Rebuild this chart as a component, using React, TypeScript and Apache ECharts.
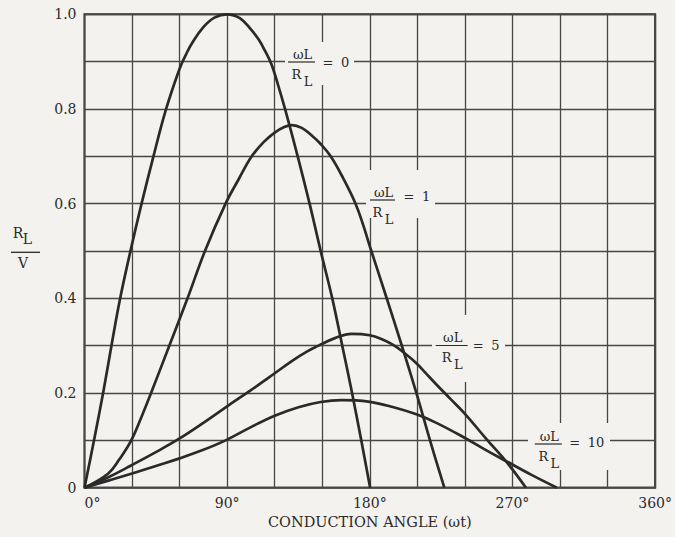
import React, { useEffect, useRef } from 'react';
import * as echarts from 'echarts';

// ---- data ----
const xTickValues = [0, 90, 180, 270, 360];
const yTickValues = [0, 0.2, 0.4, 0.6, 0.8, 1.0];

const ratio0Angle = [0, 6, 12, 17, 22.5, 29, 36, 43.5, 51.5, 60, 64, 68, 75, 82, 90, 98, 105, 110, 114, 118, 122, 126.5, 134.5, 142, 149, 156.3, 162.6, 168.8, 174.6, 180.2];
const ratio0Value = [0, 0.1, 0.205, 0.3, 0.4, 0.5, 0.6, 0.7, 0.8, 0.885, 0.915, 0.94, 0.973, 0.993, 1.0, 0.992, 0.968, 0.946, 0.922, 0.894, 0.852, 0.8, 0.7, 0.6, 0.5, 0.4, 0.3, 0.2, 0.1, 0];

const ratio1Angle = [0, 15, 22, 29.5, 36, 42, 53.5, 65, 76, 89, 97, 105.5, 113, 120, 126, 131, 137, 143, 149, 155.3, 163, 171, 176, 180.2, 190.2, 200, 209.4, 217.7, 227];
const ratio1Value = [0, 0.03, 0.06, 0.1, 0.15, 0.2, 0.3, 0.4, 0.5, 0.6, 0.65, 0.7, 0.73, 0.75, 0.762, 0.766, 0.76, 0.745, 0.726, 0.7, 0.655, 0.6, 0.553, 0.508, 0.405, 0.302, 0.2, 0.103, 0];

const ratio5Angle = [0, 15, 30, 45, 60, 75, 90, 105, 116, 131, 140, 147, 158, 168.5, 180, 188, 195, 202, 209.4, 215, 222, 231, 240, 254, 266.6, 278.5];
const ratio5Value = [0, 0.022, 0.048, 0.075, 0.104, 0.137, 0.172, 0.206, 0.232, 0.268, 0.287, 0.299, 0.316, 0.325, 0.322, 0.313, 0.301, 0.284, 0.263, 0.243, 0.218, 0.187, 0.156, 0.101, 0.053, 0];

const ratio10Angle = [0, 15, 30, 45, 60, 75, 89, 105, 120, 135, 149, 162, 179, 195, 209.4, 222, 240.6, 253, 266.6, 282, 298];
const ratio10Value = [0, 0.015, 0.03, 0.046, 0.062, 0.08, 0.1, 0.128, 0.152, 0.17, 0.181, 0.185, 0.182, 0.17, 0.155, 0.137, 0.104, 0.08, 0.055, 0.027, 0];

const curveLabels = ['0', '1', '5', '10'];

// ---- styles ----
const BG = '#f3f2ee';
const INK = '#2a2a2a';
const GRID_INK = '#474747';
const SERIF = '"DejaVu Serif", "Liberation Serif", serif';

const zip = (a: number[], b: number[]) => a.map((v, i) => [v, b[i]]);

function txt(text: string, x: number, y: number, align: string, size: number, extra: any = {}) {
  return {
    type: 'text',
    x,
    y,
    z: 4,
    silent: true,
    style: {
      text,
      font: `${size}px ${SERIF}`,
      fill: INK,
      align,
      verticalAlign: 'middle',
      textAlign: align,
      textVerticalAlign: 'middle',
      ...extra,
    },
  };
}

function fractionLabel(cx: number, barY: number, halfBar: number, value: string, box: number[], eqDy = 0) {
  return [
    {
      type: 'rect',
      z: 1,
      silent: true,
      shape: { x: box[0], y: box[1], width: box[2] - box[0], height: box[3] - box[1] },
      style: { fill: BG },
    },
    {
      type: 'line',
      z: 4,
      silent: true,
      shape: { x1: cx - halfBar, y1: barY, x2: cx + halfBar, y2: barY },
      style: { stroke: INK, lineWidth: 1.2 },
    },
    txt('ωL', cx + 1, barY - 8, 'center', 13),
    txt('R', cx - 5, barY + 12, 'center', 13),
    txt('L', cx + 6.5, barY + 19, 'center', 13),
    txt('=', cx + 26.5, barY + eqDy, 'center', 13),
    txt(value, cx + 39.5, barY + eqDy, 'left', 13),
  ];
}

export default function App() {
  const ref = useRef<HTMLDivElement>(null);

  useEffect(() => {
    if (!ref.current) return;
    const chart = echarts.init(ref.current, null, { renderer: 'svg' });

    const curves = [
      zip(ratio0Angle, ratio0Value),
      zip(ratio1Angle, ratio1Value),
      zip(ratio5Angle, ratio5Value),
      zip(ratio10Angle, ratio10Value),
    ];

    const graphics: any[] = [
      ...fractionLabel(301.5, 62, 13.5, curveLabels[0], [285, 42, 354, 85]),
      ...fractionLabel(382.5, 200, 12.5, curveLabels[1], [366, 170, 435, 218], -4),
      ...fractionLabel(451.7, 345.5, 16, curveLabels[2], [432, 315, 505, 382]),
      ...fractionLabel(548.3, 444, 13.5, curveLabels[3], [528, 423, 610, 470], -1.5),
      // y-axis title R_L / V
      txt('R', 18, 233, 'center', 14),
      txt('L', 27.5, 238.5, 'center', 14),
      {
        type: 'line',
        z: 4,
        silent: true,
        shape: { x1: 11, y1: 252.3, x2: 40, y2: 252.3 },
        style: { stroke: INK, lineWidth: 1.3 },
      },
      txt('V', 23, 262.5, 'center', 14),
    ];

    chart.setOption({
      animation: false,
      backgroundColor: BG,
      textStyle: { fontFamily: SERIF, color: INK },
      grid: {
        left: 84.5,
        top: 14.3,
        width: 577,
        height: 473.4,
        show: true,
        borderColor: INK,
        borderWidth: 2,
        backgroundColor: 'transparent',
      },
      xAxis: {
        type: 'value',
        min: 0,
        max: 360,
        interval: 30,
        axisLine: { show: false },
        axisTick: { show: false },
        splitLine: { show: true, lineStyle: { color: GRID_INK, width: 1.3 } },
        axisLabel: {
          margin: 8,
          fontSize: 14,
          fontFamily: SERIF,
          color: INK,
          alignMinLabel: 'left',
          formatter: (v: number) => (xTickValues.includes(Math.round(v)) ? `${Math.round(v)}°` : ''),
        },
        name: 'CONDUCTION ANGLE (ωt)',
        nameLocation: 'middle',
        nameGap: 22,
        nameTextStyle: { fontSize: 14.5, fontFamily: SERIF, color: INK, verticalAlign: 'top' },
      },
      yAxis: {
        type: 'value',
        min: 0,
        max: 1,
        interval: 0.1,
        axisLine: { show: false },
        axisTick: { show: false },
        splitLine: { show: true, lineStyle: { color: GRID_INK, width: 1.3 } },
        axisLabel: {
          margin: 8,
          fontSize: 14,
          fontFamily: SERIF,
          color: INK,
          formatter: (v: number) => {
            const t = Math.round(v * 10);
            const match = yTickValues.some((y) => Math.round(y * 10) === t);
            if (!match) return '';
            return t === 0 ? '0' : (t / 10).toFixed(1);
          },
        },
      },
      series: curves.map((data, i) => ({
        type: 'line',
        name: `ωL/RL = ${curveLabels[i]}`,
        data,
        smooth: 0.4,
        showSymbol: false,
        symbol: 'none',
        z: 2,
        lineStyle: { color: INK, width: 2.7 },
      })),
      graphic: graphics,
    });

    return () => chart.dispose();
  }, []);

  return (
    <div
      ref={ref}
      style={{ position: 'absolute', left: 0, top: 0, width: 675, height: 537 }}
    />
  );
}
